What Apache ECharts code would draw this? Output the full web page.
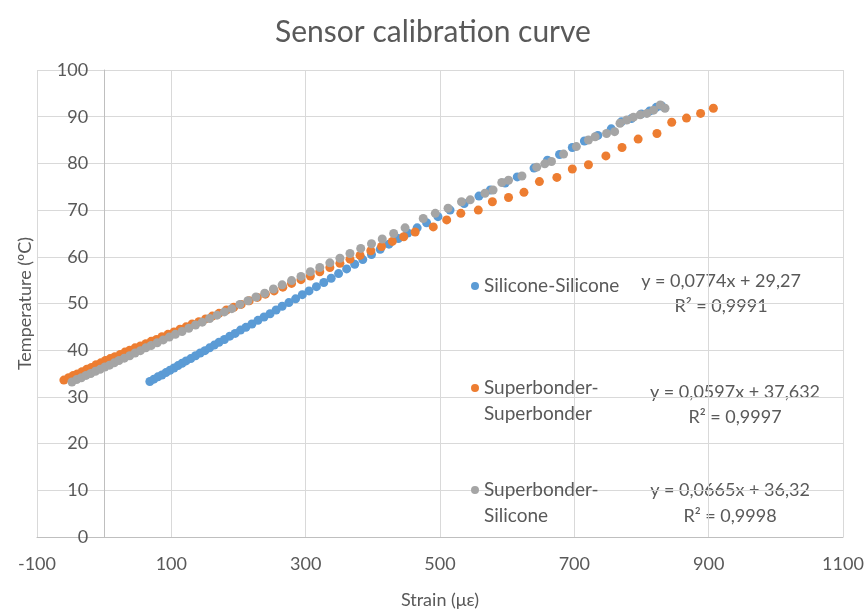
<!DOCTYPE html>
<html>
<head>
<meta charset="utf-8">
<script src="https://cdn.jsdelivr.net/npm/echarts@6/dist/echarts.min.js"></script>
<style>html,body{margin:0;padding:0;background:#fff}#c{width:866px;height:613px}</style>
</head>
<body>
<div id="c"></div>
<script>
// ---- data ----
const seriesNames = ['Silicone-Silicone', 'Superbonder-\nSuperbonder', 'Superbonder-\nSilicone'];

const siliconeX = [68,74,80,86,92,98,104,110,116,122,129,136,143,150,157,164,171,179,187,195,203,211,220,229,238,247,256,265,275,285,295,305,316,327,338,349,361,373,385,398,411,424,438,452,466,480,497,515,536,558,575,597,615,640,660,678,697,715,735,755,770,785,800,812,822,830];
const siliconeY = [33.3,33.8,34.3,34.7,35.2,35.7,36.2,36.7,37.2,37.7,38.2,38.8,39.4,39.9,40.5,41.1,41.7,42.3,43.0,43.6,44.3,44.9,45.6,46.4,47.1,47.8,48.6,49.4,50.2,51.0,51.9,52.7,53.6,54.5,55.4,56.4,57.4,58.4,59.4,60.5,61.6,62.7,63.9,65.1,66.2,67.3,68.6,70.0,71.4,73.0,74.3,75.8,77.1,79.0,80.7,81.9,83.4,84.8,86.0,87.4,88.9,89.6,90.6,91.2,92.0,92.3];

const superSuperX = [-60,-53,-46,-40,-33,-26,-19,-12,-5,2,9,16,24,31,38,46,54,62,70,78,86,95,104,113,122,131,141,151,161,171,182,193,204,216,228,240,253,266,279,293,307,321,336,351,366,381,397,413,429,446,463,490,510,531,557,578,602,625,648,674,697,721,747,771,795,823,845,867,888,907];
const superSuperY = [33.6,34.1,34.6,34.9,35.4,35.9,36.3,36.9,37.3,37.8,38.2,38.6,39.1,39.6,40.0,40.5,40.9,41.4,41.9,42.3,42.9,43.4,43.9,44.5,45.0,45.6,46.1,46.7,47.3,47.9,48.6,49.2,49.8,50.6,51.3,52.0,52.7,53.5,54.3,55.1,55.9,56.8,57.7,58.6,59.5,60.3,61.3,62.2,63.3,64.3,65.3,66.4,67.9,69.3,70.0,71.8,72.7,73.8,76.1,77.0,78.8,79.7,81.6,83.4,85.2,86.4,88.8,89.7,90.7,91.8];

const superSiliconeX = [-48,-41,-34,-27,-20,-13,-6,1,8,15,22,30,38,46,54,62,70,79,88,97,106,116,126,136,146,157,168,179,190,202,214,226,239,252,265,279,293,307,321,336,351,366,382,398,414,431,448,475,493,512,532,545,567,579,592,602,622,644,656,666,684,703,721,731,748,760,768,778,788,798,808,818,828,835];
const superSiliconeY = [33.2,33.7,34.1,34.6,35.0,35.5,35.9,36.4,36.8,37.3,37.8,38.3,38.8,39.4,39.9,40.5,41.0,41.6,42.2,42.8,43.4,44.0,44.7,45.4,46.0,46.8,47.5,48.2,48.9,49.8,50.6,51.4,52.2,53.1,54.0,54.9,55.8,56.8,57.7,58.7,59.7,60.7,61.8,62.8,63.8,65.0,66.2,68.2,69.3,70.4,71.8,72.2,73.6,74.3,75.9,76.4,77.3,79.2,79.9,80.4,82.0,83.6,85.0,85.7,86.4,86.8,88.6,89.3,89.9,90.4,90.7,91.4,92.5,91.8];

const xTicks = [-100, 100, 300, 500, 700, 900, 1100];
const trendEquations = ['y = 0,0774x + 29,27', 'y = 0,0597x + 37,632', 'y = 0,0665x + 36,32'];
const trendR2 = ['R² = 0,9991', 'R² = 0,9997', 'R² = 0,9998'];
// ----------------------------------------------

const colors = ['#5B9BD5', '#ED7D31', '#A5A5A5'];
const FONT = 'Lato, "Open Sans", sans-serif';
const TXT = '#595959';

function pairs(xs, ys) { return xs.map((x, i) => [x, ys[i]]); }
const seriesData = [pairs(siliconeX, siliconeY), pairs(superSuperX, superSuperY), pairs(superSiliconeX, superSiliconeY)];

const chart = echarts.init(document.getElementById('c'), null, {renderer: 'canvas'});

// grid geometry
const GL = 37, GR = 23, GW = 866 - GL - GR;
const X_MIN = -100, X_MAX = 1100;
// y axis sits on x = 0 (Excel style)
const yAxisOffset = -(0 - X_MIN) / (X_MAX - X_MIN) * GW;

// legend icon: circle at the top of a taller box, so it lines up with the first text line
const topCircleIcon = 'path://M0,4A4,4,0,1,1,8,4A4,4,0,1,1,0,4ZM4,34L4,34Z';
const legendTops = [273, 375, 477];

const eqPos = [[721, 281, 306], [735, 392, 417], [730, 490, 516]];

const option = {
  animation: false,
  backgroundColor: '#fff',
  color: colors,
  title: {
    text: 'Sensor calibration curve',
    left: 'center',
    top: 12,
    textStyle: {fontFamily: FONT, fontSize: 30, fontWeight: 'normal', color: TXT}
  },
  grid: {left: GL, right: GR, top: 70, bottom: 76, containLabel: false, outerBoundsMode: 'none'},
  legend: seriesNames.map((n, i) => ({
    data: [n],
    orient: 'vertical',
    left: 471,
    top: legendTops[i],
    padding: 0,
    icon: i === 0 ? 'circle' : topCircleIcon,
    itemWidth: 8,
    itemHeight: i === 0 ? 8 : 34,
    itemGap: 5,
    selectedMode: false,
    textStyle: {fontFamily: FONT, fontSize: 19, color: TXT, lineHeight: 26}
  })),
  xAxis: {
    type: 'value',
    min: X_MIN,
    max: X_MAX,
    name: 'Strain (με)',
    nameLocation: 'middle',
    nameGap: 54,
    nameTextStyle: {fontFamily: FONT, fontSize: 18, color: TXT},
    axisLine: {show: true, onZero: false, lineStyle: {color: '#bfbfbf'}},
    axisTick: {show: false, customValues: xTicks},
    axisLabel: {customValues: xTicks, fontFamily: FONT, fontSize: 18, color: TXT, margin: 18,
      formatter: v => String(v)},
    splitLine: {show: true, lineStyle: {color: '#d9d9d9', width: 1}}
  },
  yAxis: {
    type: 'value',
    min: 0,
    max: 100,
    interval: 10,
    offset: yAxisOffset,
    name: 'Temperature (ºC)',
    nameLocation: 'middle',
    nameGap: 70,
    nameTextStyle: {fontFamily: FONT, fontSize: 18, color: TXT},
    axisLine: {show: true, onZero: false, lineStyle: {color: '#bfbfbf'}},
    axisTick: {show: false},
    axisLabel: {fontFamily: FONT, fontSize: 18, color: TXT, margin: 16},
    splitLine: {show: true, lineStyle: {color: '#d9d9d9', width: 1}}
  },
  series: seriesNames.map((n, i) => ({
    name: n,
    type: 'scatter',
    symbol: 'circle',
    symbolSize: 9,
    data: seriesData[i],
    itemStyle: {color: colors[i], opacity: 1},
    z: 2 + i
  })),
  graphic: trendEquations.flatMap((eq, i) => [
    {type: 'text', x: eqPos[i][0], y: eqPos[i][1], style: {text: eq, fill: TXT, font: '18px ' + FONT, textAlign: 'center', textVerticalAlign: 'middle'}},
    {type: 'text', x: eqPos[i][0], y: eqPos[i][2], style: {text: trendR2[i], fill: TXT, font: '18px ' + FONT, textAlign: 'center', textVerticalAlign: 'middle'}}
  ])
};
chart.setOption(option);
</script>
</body>
</html>
